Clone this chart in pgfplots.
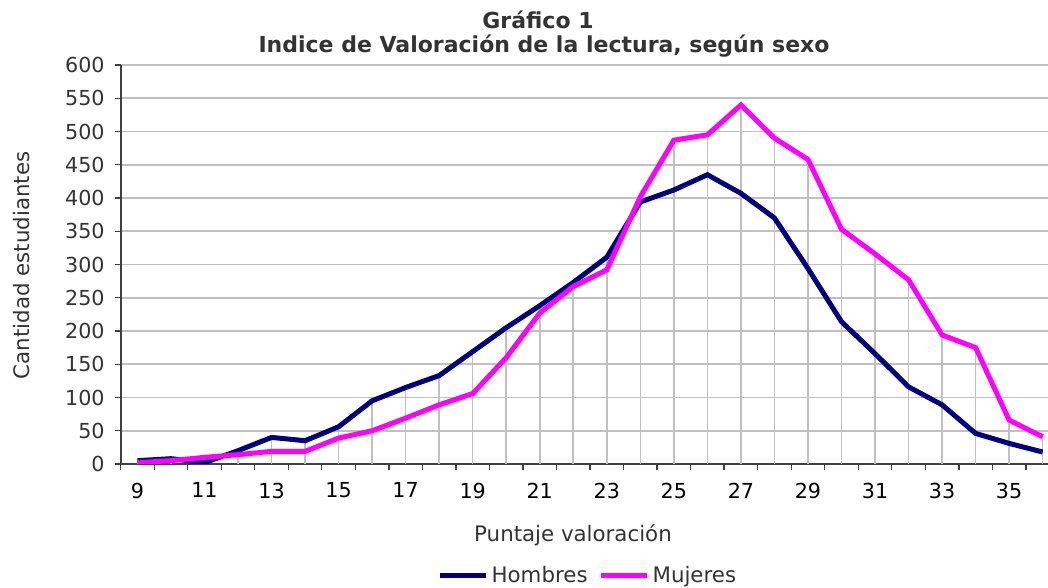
\documentclass[border=0pt]{standalone}
\usepackage{fontspec}
\setmainfont{DejaVu Sans}
\usepackage{pgfplots}
\pgfplotsset{compat=1.18}
\definecolor{hnavy}{HTML}{000080}
\definecolor{mmag}{HTML}{FF00FF}
\definecolor{gridc}{HTML}{C0C0C0}
\definecolor{axc}{HTML}{404040}
\definecolor{txt}{HTML}{333333}
\begin{document}
\begin{tikzpicture}
\begin{axis}[
  at={(90.5pt,93pt)}, anchor=south west,
  scale only axis, width=695.5pt, height=299.25pt,
  xmin=8.5, xmax=36.16, ymin=0, ymax=600,
  axis x line*=bottom, axis y line*=left,
  axis line style={axc, line width=1.4pt},
  xtick={9,11,...,35},
  minor xtick={8.5,9.5,...,35.5},
  ytick={0,50,...,600},
  tick align=outside,
  major tick length=4.5pt, minor tick length=4.5pt,
  every major x tick/.append style={draw=none},
  every minor x tick/.append style={axc, line width=1pt},
  every major y tick/.append style={axc, line width=1pt},
  ymajorgrids,
  major grid style={gridc, line width=1.3pt},
  /pgf/number format/assume math mode=true,
  yticklabel style={font=\fontsize{15.5}{18}\selectfont, text=txt, xshift=-4pt},
  xticklabel style={font=\fontsize{15.5}{18}\selectfont, text=black, yshift=-6pt},
  legend style={at={(0.504,-0.279)}, anchor=center, draw=none, fill=none,
    legend columns=2, font=\fontsize{16}{19}\selectfont, text=txt,
    /tikz/every even column/.append style={column sep=6pt},
    cells={anchor=west}},
  legend image code/.code={\draw[#1] (0pt,0pt) -- (35pt,0pt);},
]
\addplot[ycomb, gridc, line width=1.2pt, forget plot] coordinates {
(9,5)(10,8)(11,10)(12,20)(13,40)(14,35)(15,56)(16,95)(17,115)(18,133)
(19,169)(20,205)(21,238)(22,273)(23,311)(24,402)(25,487)(26,495)(27,540)(28,490)
(29,458)(30,353)(31,316)(32,277)(33,194)(34,175)(35,66)(36,41)};
\addplot[hnavy, line width=3.75pt] coordinates {
(9,5)(10,8)(11,2)(12,20)(13,40)(14,35)(15,56)(16,95)(17,115)(18,133)
(19,169)(20,205)(21,238)(22,273)(23,311)(24,394)(25,412)(26,435)(27,407)(28,370)
(29,294)(30,214)(31,166)(32,116)(33,89)(34,46)(35,31)(36,18)};
\addlegendentry{Hombres}
\addplot[mmag, line width=3.75pt] coordinates {
(9,2)(10,5)(11,10)(12,14)(13,19)(14,19)(15,39)(16,50)(17,69)(18,89)
(19,106)(20,160)(21,227)(22,267)(23,292)(24,402)(25,487)(26,495)(27,540)(28,490)
(29,458)(30,353)(31,316)(32,277)(33,194)(34,175)(35,66)(36,41)};
\addlegendentry{Mujeres}
\end{axis}
\node[anchor=base, text=txt, font=\fontsize{16.5}{20}\selectfont\bfseries] at (403.5pt,419.25pt) {Gráfico 1};
\node[anchor=base, text=txt, font=\fontsize{16.5}{20}\selectfont\bfseries] at (408pt,401.25pt) {Indice de Valoración de la lectura, según sexo};
\node[anchor=base, rotate=90, text=txt, font=\fontsize{16}{19}\selectfont] at (21.75pt,242pt) {Cantidad estudiantes};
\node[anchor=base, text=txt, font=\fontsize{16}{19}\selectfont] at (429.75pt,34.7pt) {Puntaje valoración};
\pgfresetboundingbox
\path (0pt,0pt) rectangle (786pt,441pt);
\end{tikzpicture}
\end{document}
